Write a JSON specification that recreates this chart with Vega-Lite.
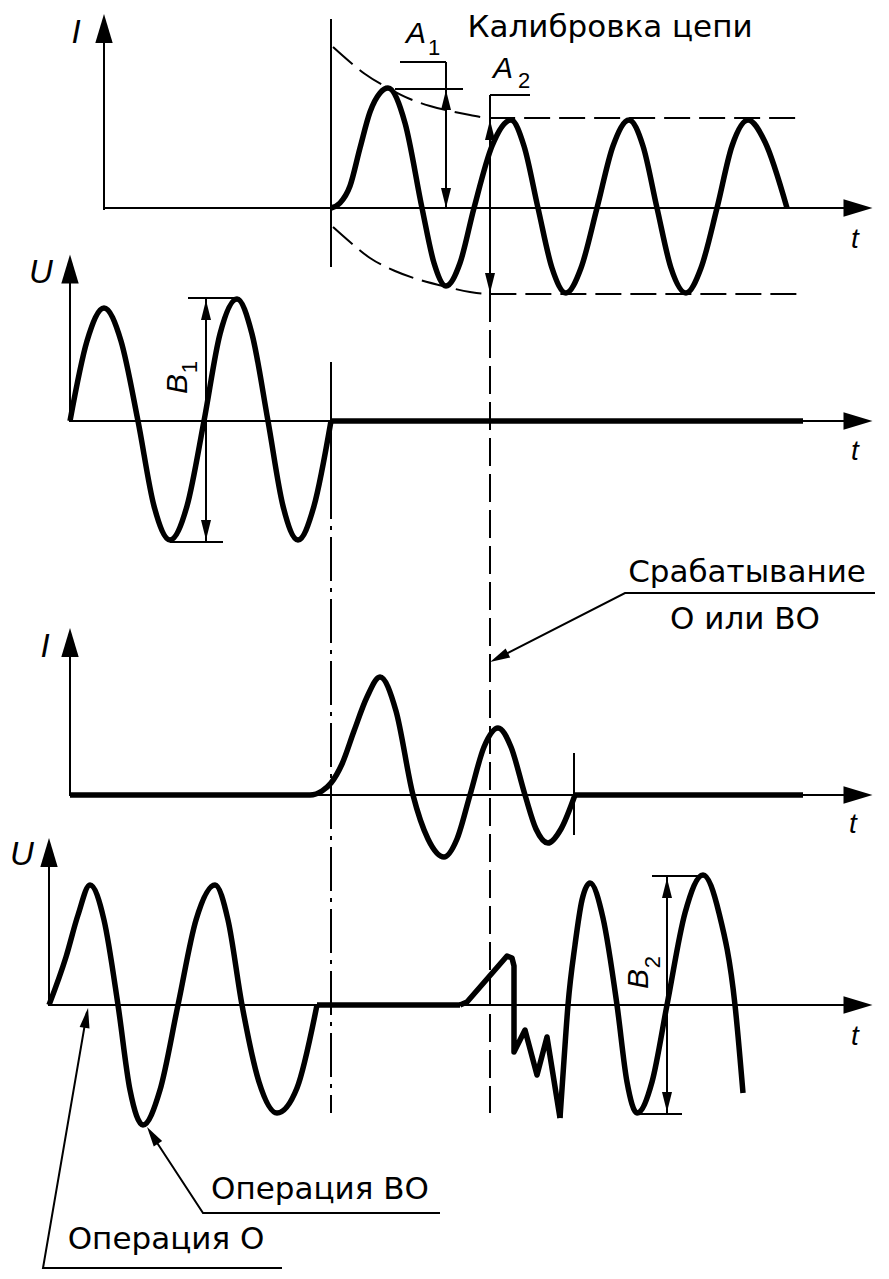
{
  "$schema": "https://vega.github.io/schema/vega-lite/v6.json",
  "width": 889,
  "height": 1279,
  "padding": 0,
  "autosize": {"type": "fit", "contains": "padding"},
  "background": "white",
  "config": {"view": {"stroke": null}},
  "datasets": {
    "thin": [
      {"id": "p1v", "x": 104, "y": 210}, {"id": "p1v", "x": 104, "y": 38},
      {"id": "p1h", "x": 104, "y": 208}, {"id": "p1h", "x": 848, "y": 208},
      {"id": "p2v", "x": 70, "y": 422}, {"id": "p2v", "x": 70, "y": 278},
      {"id": "p2h", "x": 70, "y": 421}, {"id": "p2h", "x": 848, "y": 421},
      {"id": "p3v", "x": 70, "y": 796}, {"id": "p3v", "x": 70, "y": 652},
      {"id": "p3h", "x": 70, "y": 795}, {"id": "p3h", "x": 848, "y": 795},
      {"id": "p4v", "x": 49, "y": 1006}, {"id": "p4v", "x": 49, "y": 862},
      {"id": "p4h", "x": 49, "y": 1005}, {"id": "p4h", "x": 848, "y": 1005},
      {"id": "v331a", "x": 331, "y": 19}, {"id": "v331a", "x": 331, "y": 267},
      {"id": "v331b", "x": 331, "y": 362}, {"id": "v331b", "x": 331, "y": 475},
      {"id": "a1v", "x": 446, "y": 62}, {"id": "a1v", "x": 446, "y": 208},
      {"id": "a1t", "x": 400, "y": 62}, {"id": "a1t", "x": 446, "y": 62},
      {"id": "a1e", "x": 395, "y": 89}, {"id": "a1e", "x": 463, "y": 89},
      {"id": "a2v", "x": 490, "y": 95}, {"id": "a2v", "x": 490, "y": 294},
      {"id": "a2t", "x": 490, "y": 95}, {"id": "a2t", "x": 530, "y": 95},
      {"id": "b1v", "x": 206, "y": 298}, {"id": "b1v", "x": 206, "y": 542},
      {"id": "b1t", "x": 188, "y": 298}, {"id": "b1t", "x": 237, "y": 298},
      {"id": "b1b", "x": 170, "y": 542}, {"id": "b1b", "x": 223, "y": 542},
      {"id": "b2v", "x": 667, "y": 876}, {"id": "b2v", "x": 667, "y": 1114},
      {"id": "b2t", "x": 652, "y": 876}, {"id": "b2t", "x": 703, "y": 876},
      {"id": "b2b", "x": 637, "y": 1114}, {"id": "b2b", "x": 682, "y": 1114},
      {"id": "l1", "x": 875, "y": 593}, {"id": "l1", "x": 625, "y": 593}, {"id": "l1", "x": 496, "y": 659},
      {"id": "l2", "x": 440, "y": 1213}, {"id": "l2", "x": 203, "y": 1213}, {"id": "l2", "x": 150, "y": 1132},
      {"id": "l3", "x": 282, "y": 1268}, {"id": "l3", "x": 43, "y": 1268}, {"id": "l3", "x": 87, "y": 1012},
      {"id": "t3", "x": 574, "y": 753}, {"id": "t3", "x": 574, "y": 835}
    ],
    "thick": [
      {"id": "f2", "x": 331, "y": 421}, {"id": "f2", "x": 803, "y": 421},
      {"id": "f3", "x": 575, "y": 795}, {"id": "f3", "x": 803, "y": 795},
      {"id": "f4", "x": 317, "y": 1005}, {"id": "f4", "x": 460, "y": 1005},
      {"id": "zz", "x": 460, "y": 1005}, {"id": "zz", "x": 467, "y": 1002}, {"id": "zz", "x": 507, "y": 956},
      {"id": "zz", "x": 512, "y": 958}, {"id": "zz", "x": 514, "y": 966}, {"id": "zz", "x": 514, "y": 1052},
      {"id": "zz", "x": 525, "y": 1030}, {"id": "zz", "x": 537, "y": 1075}, {"id": "zz", "x": 547, "y": 1037},
      {"id": "zz", "x": 560, "y": 1118}
    ],
    "curves": [
      {"id": "c1", "x": 331, "y": 208}, {"id": "c1", "x": 340, "y": 203}, {"id": "c1", "x": 350, "y": 186},
      {"id": "c1", "x": 360, "y": 148}, {"id": "c1", "x": 370, "y": 112}, {"id": "c1", "x": 380, "y": 93},
      {"id": "c1", "x": 388, "y": 88}, {"id": "c1", "x": 405, "y": 123}, {"id": "c1", "x": 422, "y": 208},
      {"id": "c1", "x": 434, "y": 263}, {"id": "c1", "x": 446, "y": 286}, {"id": "c1", "x": 460, "y": 263},
      {"id": "c1", "x": 474, "y": 208}, {"id": "c1", "x": 492, "y": 146}, {"id": "c1", "x": 511, "y": 120},
      {"id": "c1", "x": 524, "y": 146}, {"id": "c1", "x": 538, "y": 208}, {"id": "c1", "x": 552, "y": 268},
      {"id": "c1", "x": 566, "y": 293}, {"id": "c1", "x": 581, "y": 268}, {"id": "c1", "x": 597, "y": 208},
      {"id": "c1", "x": 613, "y": 146}, {"id": "c1", "x": 629, "y": 120}, {"id": "c1", "x": 643, "y": 146},
      {"id": "c1", "x": 657, "y": 208}, {"id": "c1", "x": 671, "y": 268}, {"id": "c1", "x": 686, "y": 293},
      {"id": "c1", "x": 701, "y": 268}, {"id": "c1", "x": 717, "y": 208}, {"id": "c1", "x": 732, "y": 146},
      {"id": "c1", "x": 748, "y": 120}, {"id": "c1", "x": 765, "y": 142}, {"id": "c1", "x": 787, "y": 208},
      {"id": "c2", "x": 70, "y": 421}, {"id": "c2", "x": 87, "y": 341}, {"id": "c2", "x": 104, "y": 308},
      {"id": "c2", "x": 121, "y": 341}, {"id": "c2", "x": 138, "y": 421}, {"id": "c2", "x": 154, "y": 506},
      {"id": "c2", "x": 170, "y": 540}, {"id": "c2", "x": 187, "y": 506}, {"id": "c2", "x": 204, "y": 421},
      {"id": "c2", "x": 220, "y": 334}, {"id": "c2", "x": 237, "y": 299}, {"id": "c2", "x": 252, "y": 334},
      {"id": "c2", "x": 268, "y": 421}, {"id": "c2", "x": 283, "y": 506}, {"id": "c2", "x": 298, "y": 540},
      {"id": "c2", "x": 314, "y": 506}, {"id": "c2", "x": 331, "y": 421},
      {"id": "c3", "x": 70, "y": 795}, {"id": "c3", "x": 310, "y": 795}, {"id": "c3", "x": 322, "y": 791},
      {"id": "c3", "x": 331, "y": 783}, {"id": "c3", "x": 342, "y": 764}, {"id": "c3", "x": 354, "y": 731},
      {"id": "c3", "x": 367, "y": 697}, {"id": "c3", "x": 380, "y": 677}, {"id": "c3", "x": 396, "y": 711},
      {"id": "c3", "x": 413, "y": 795}, {"id": "c3", "x": 428, "y": 839}, {"id": "c3", "x": 444, "y": 857},
      {"id": "c3", "x": 457, "y": 839}, {"id": "c3", "x": 470, "y": 795}, {"id": "c3", "x": 484, "y": 747},
      {"id": "c3", "x": 498, "y": 728}, {"id": "c3", "x": 511, "y": 747}, {"id": "c3", "x": 525, "y": 795},
      {"id": "c3", "x": 536, "y": 829}, {"id": "c3", "x": 548, "y": 843}, {"id": "c3", "x": 561, "y": 829},
      {"id": "c3", "x": 575, "y": 795},
      {"id": "c4", "x": 49, "y": 1005}, {"id": "c4", "x": 66, "y": 957}, {"id": "c4", "x": 78, "y": 915},
      {"id": "c4", "x": 90, "y": 885}, {"id": "c4", "x": 104, "y": 920}, {"id": "c4", "x": 118, "y": 1005},
      {"id": "c4", "x": 130, "y": 1090}, {"id": "c4", "x": 143, "y": 1125}, {"id": "c4", "x": 160, "y": 1090},
      {"id": "c4", "x": 178, "y": 1005}, {"id": "c4", "x": 196, "y": 920}, {"id": "c4", "x": 215, "y": 885},
      {"id": "c4", "x": 228, "y": 920}, {"id": "c4", "x": 242, "y": 1005}, {"id": "c4", "x": 259, "y": 1082},
      {"id": "c4", "x": 277, "y": 1113}, {"id": "c4", "x": 297, "y": 1088}, {"id": "c4", "x": 317, "y": 1005},
      {"id": "c5", "x": 560, "y": 1118}, {"id": "c5", "x": 564, "y": 1060}, {"id": "c5", "x": 568, "y": 1005},
      {"id": "c5", "x": 575, "y": 945}, {"id": "c5", "x": 582, "y": 900}, {"id": "c5", "x": 590, "y": 883},
      {"id": "c5", "x": 603, "y": 918}, {"id": "c5", "x": 617, "y": 1005}, {"id": "c5", "x": 627, "y": 1082},
      {"id": "c5", "x": 637, "y": 1113}, {"id": "c5", "x": 652, "y": 1082}, {"id": "c5", "x": 667, "y": 1005},
      {"id": "c5", "x": 685, "y": 913}, {"id": "c5", "x": 703, "y": 875}, {"id": "c5", "x": 719, "y": 913},
      {"id": "c5", "x": 735, "y": 1005}, {"id": "c5", "x": 743, "y": 1093}
    ],
    "envelope": [
      {"id": "eu", "x": 333, "y": 47}, {"id": "eu", "x": 350, "y": 62}, {"id": "eu", "x": 365, "y": 74},
      {"id": "eu", "x": 388, "y": 88}, {"id": "eu", "x": 410, "y": 99}, {"id": "eu", "x": 430, "y": 106},
      {"id": "eu", "x": 450, "y": 111}, {"id": "eu", "x": 470, "y": 115}, {"id": "eu", "x": 490, "y": 118},
      {"id": "eu", "x": 803, "y": 118},
      {"id": "el", "x": 333, "y": 227}, {"id": "el", "x": 350, "y": 242}, {"id": "el", "x": 370, "y": 258},
      {"id": "el", "x": 395, "y": 271}, {"id": "el", "x": 420, "y": 280}, {"id": "el", "x": 447, "y": 287},
      {"id": "el", "x": 470, "y": 292}, {"id": "el", "x": 490, "y": 294}, {"id": "el", "x": 803, "y": 294}
    ],
    "dashv": [
      {"id": "v490", "x": 490, "y": 294}, {"id": "v490", "x": 490, "y": 1113}
    ],
    "dashdot": [
      {"id": "v331", "x": 331, "y": 475}, {"id": "v331", "x": 331, "y": 1113}
    ],
    "bigArrows": [
      {"x": 104, "y": 28.5, "a": 0}, {"x": 70, "y": 269, "a": 0}, {"x": 70, "y": 642.5, "a": 0}, {"x": 49, "y": 852.5, "a": 0},
      {"x": 858, "y": 208, "a": 90}, {"x": 858, "y": 421, "a": 90}, {"x": 858, "y": 795, "a": 90}, {"x": 858, "y": 1005, "a": 90}
    ],
    "smallArrows": [
      {"x": 446, "y": 100, "a": 0}, {"x": 446, "y": 198, "a": 180},
      {"x": 490, "y": 130, "a": 0}, {"x": 490, "y": 283, "a": 180},
      {"x": 206, "y": 310, "a": 0}, {"x": 206, "y": 530, "a": 180},
      {"x": 667, "y": 888, "a": 0}, {"x": 667, "y": 1102, "a": 180},
      {"x": 499, "y": 657.5, "a": 243}, {"x": 152.5, "y": 1135.4, "a": 327}, {"x": 86.3, "y": 1017.9, "a": 10}
    ],
    "ru": [
      {"t": "Калибровка цепи", "x": 610, "y": 37},
      {"t": "Срабатывание", "x": 747, "y": 582},
      {"t": "О или ВО", "x": 745, "y": 629},
      {"t": "Операция ВО", "x": 320, "y": 1199},
      {"t": "Операция О", "x": 166, "y": 1249}
    ],
    "axl": [
      {"t": "I", "x": 76, "y": 43}, {"t": "U", "x": 41, "y": 283},
      {"t": "I", "x": 45, "y": 657}, {"t": "U", "x": 22, "y": 865}
    ],
    "tl": [
      {"t": "t", "x": 855, "y": 248}, {"t": "t", "x": 855, "y": 460},
      {"t": "t", "x": 853, "y": 833}, {"t": "t", "x": 855, "y": 1045}
    ],
    "dimA": [
      {"t": "A", "x": 416, "y": 43}, {"t": "A", "x": 503, "y": 78}
    ],
    "dimSub": [
      {"t": "1", "x": 434, "y": 55}, {"t": "2", "x": 524, "y": 88}
    ],
    "dimB": [
      {"t": "B", "x": 187, "y": 384}, {"t": "B", "x": 648, "y": 979}
    ],
    "dimBSub": [
      {"t": "1", "x": 197, "y": 367}, {"t": "2", "x": 660, "y": 962}
    ]
  },
  "encoding": {
    "x": {"field": "x", "type": "quantitative", "scale": {"domain": [0, 889], "nice": false, "zero": false}, "axis": null},
    "y": {"field": "y", "type": "quantitative", "scale": {"domain": [0, 1279], "reverse": true, "nice": false, "zero": false}, "axis": null}
  },
  "layer": [
    {
      "data": {"name": "envelope"},
      "mark": {"type": "line", "color": "black", "strokeWidth": 2, "strokeDash": [26, 9], "interpolate": "monotone"},
      "encoding": {"detail": {"field": "id"}, "order": {"value": null}}
    },
    {
      "data": {"name": "dashv"},
      "mark": {"type": "line", "color": "black", "strokeWidth": 2, "strokeDash": [28, 8]},
      "encoding": {"detail": {"field": "id"}, "order": {"value": null}}
    },
    {
      "data": {"name": "dashdot"},
      "mark": {"type": "line", "color": "black", "strokeWidth": 2, "strokeDash": [44, 7, 4, 7]},
      "encoding": {"detail": {"field": "id"}, "order": {"value": null}}
    },
    {
      "data": {"name": "thin"},
      "mark": {"type": "line", "color": "black", "strokeWidth": 2},
      "encoding": {"detail": {"field": "id"}, "order": {"value": null}}
    },
    {
      "data": {"name": "thick"},
      "mark": {"type": "line", "color": "black", "strokeWidth": 5.5, "strokeJoin": "round"},
      "encoding": {"detail": {"field": "id"}, "order": {"value": null}}
    },
    {
      "data": {"name": "curves"},
      "mark": {"type": "line", "color": "black", "strokeWidth": 5.5, "interpolate": "monotone", "strokeJoin": "round"},
      "encoding": {"detail": {"field": "id"}, "order": {"value": null}}
    },
    {
      "data": {"name": "bigArrows"},
      "mark": {"type": "point", "shape": "M0,-1L0.6,1L-0.6,1Z", "size": 841, "filled": true, "color": "black", "opacity": 1},
      "encoding": {"angle": {"field": "a", "type": "quantitative", "scale": null}}
    },
    {
      "data": {"name": "smallArrows"},
      "mark": {"type": "point", "shape": "M0,-1L0.5,1L-0.5,1Z", "size": 400, "filled": true, "color": "black", "opacity": 1},
      "encoding": {"angle": {"field": "a", "type": "quantitative", "scale": null}}
    },
    {
      "data": {"name": "ru"},
      "mark": {"type": "text", "font": "DejaVu Sans", "fontSize": 31, "align": "center", "baseline": "alphabetic", "color": "black"},
      "encoding": {"text": {"field": "t"}}
    },
    {
      "data": {"name": "axl"},
      "mark": {"type": "text", "font": "Liberation Sans", "fontStyle": "italic", "fontSize": 33, "align": "center", "baseline": "alphabetic", "color": "black"},
      "encoding": {"text": {"field": "t"}}
    },
    {
      "data": {"name": "tl"},
      "mark": {"type": "text", "font": "Liberation Sans", "fontStyle": "italic", "fontSize": 28, "align": "center", "baseline": "alphabetic", "color": "black"},
      "encoding": {"text": {"field": "t"}}
    },
    {
      "data": {"name": "dimA"},
      "mark": {"type": "text", "font": "Liberation Sans", "fontStyle": "italic", "fontSize": 30, "align": "center", "baseline": "alphabetic", "color": "black"},
      "encoding": {"text": {"field": "t"}}
    },
    {
      "data": {"name": "dimSub"},
      "mark": {"type": "text", "font": "Liberation Sans", "fontSize": 22, "align": "center", "baseline": "alphabetic", "color": "black"},
      "encoding": {"text": {"field": "t"}}
    },
    {
      "data": {"name": "dimB"},
      "mark": {"type": "text", "font": "Liberation Sans", "fontStyle": "italic", "fontSize": 30, "align": "center", "baseline": "alphabetic", "angle": 270, "color": "black"},
      "encoding": {"text": {"field": "t"}}
    },
    {
      "data": {"name": "dimBSub"},
      "mark": {"type": "text", "font": "Liberation Sans", "fontSize": 22, "align": "center", "baseline": "alphabetic", "angle": 270, "color": "black"},
      "encoding": {"text": {"field": "t"}}
    }
  ]
}
